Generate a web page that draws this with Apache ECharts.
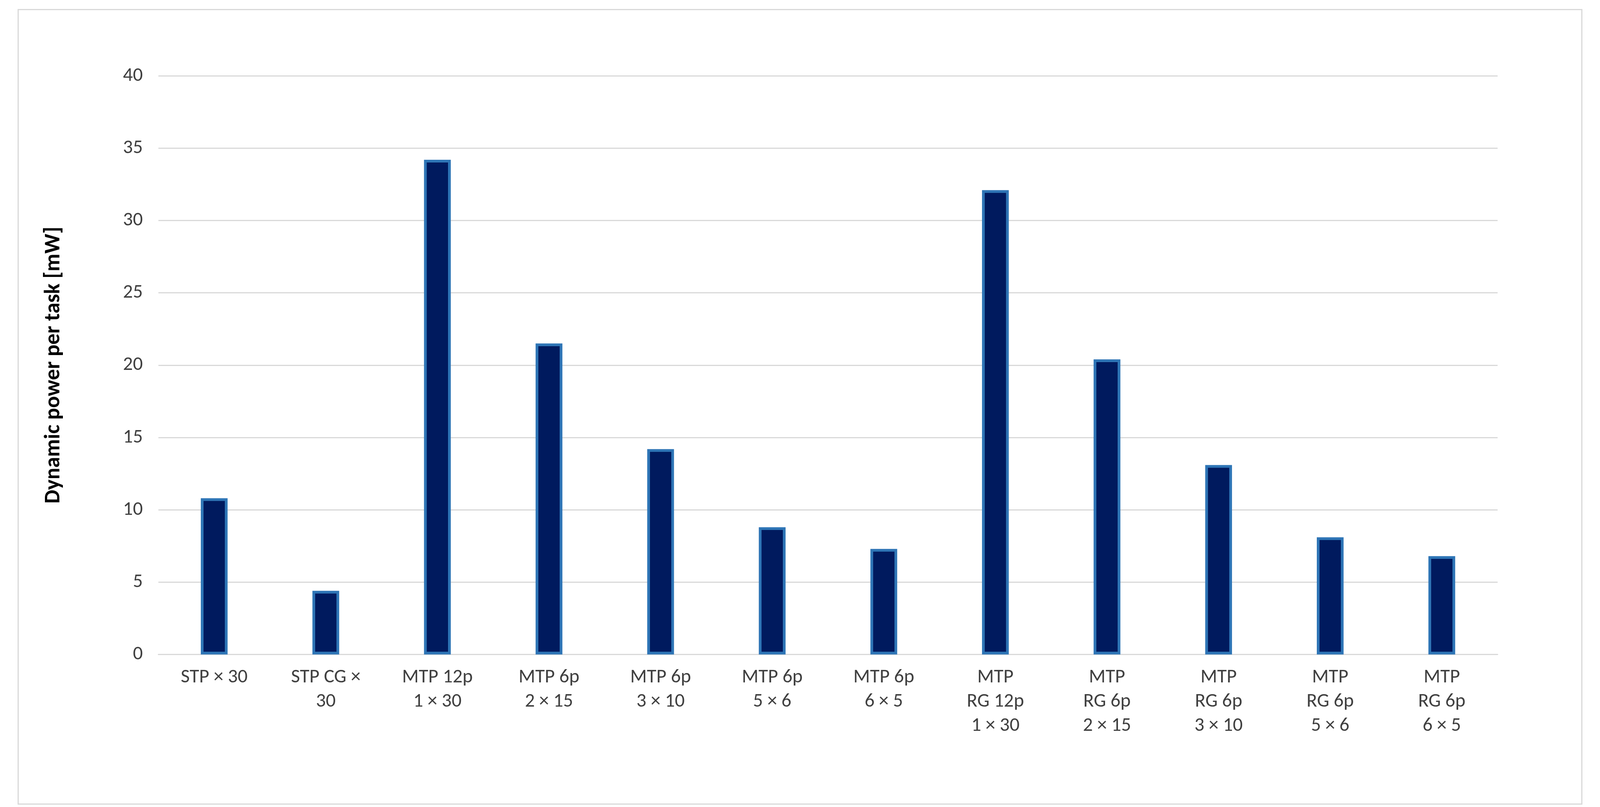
<!DOCTYPE html>
<html><head><meta charset="utf-8">
<script src="https://cdn.jsdelivr.net/npm/echarts@6/dist/echarts.min.js"></script>
<style>html,body{margin:0;background:#fff;overflow:hidden}#c{position:absolute;left:0;top:0;width:100vw;height:100vh}
#b{position:absolute;left:1.1%;top:1.1%;right:1.1%;bottom:0.3%;border:3px solid #d9d9d9;box-sizing:border-box}</style>
</head><body><div id="b"></div><div id="c"></div>
<script>
const categories = ["STP × 30","STP CG ×\n30","MTP 12p\n1 × 30","MTP 6p\n2 × 15","MTP 6p\n3 × 10","MTP 6p\n5 × 6","MTP 6p\n6 × 5","MTP\nRG 12p\n1 × 30","MTP\nRG 6p\n2 × 15","MTP\nRG 6p\n3 × 10","MTP\nRG 6p\n5 × 6","MTP\nRG 6p\n6 × 5"];
const values = [10.8, 4.4, 34.2, 21.5, 14.2, 8.8, 7.3, 32.1, 20.4, 13.1, 8.1, 6.8];
const c = echarts.init(document.getElementById('c'));
c.setOption({
  animation:false,
  grid:{left:'9.9%',right:'6.4%',top:'9.4%',bottom:'18.9%'},
  xAxis:{type:'category',data:categories,axisTick:{show:false},
    axisLine:{lineStyle:{color:'#d9d9d9',width:3}},
    axisLabel:{color:'#404040',fontSize:50,fontFamily:'Calibri, Carlito, Lato, Liberation Sans',lineHeight:62,margin:28,interval:0}},
  yAxis:{type:'value',min:0,max:40,interval:5,name:'Dynamic power per task [mW]',nameLocation:'middle',nameGap:240,
    nameTextStyle:{fontSize:56,fontWeight:'bold',color:'#000',fontFamily:'Calibri, Carlito, Lato, Liberation Sans'},
    axisLabel:{color:'#404040',fontSize:50,margin:40,fontFamily:'Calibri, Carlito, Lato, Liberation Sans'},
    splitLine:{lineStyle:{color:'#d9d9d9',width:3}}},
  series:[{type:'bar',data:values,barWidth:'24%',
    itemStyle:{color:'#001a5e',borderColor:'#2e75b6',borderWidth:7}}]
});
window.addEventListener('resize',()=>c.resize());
</script></body></html>
